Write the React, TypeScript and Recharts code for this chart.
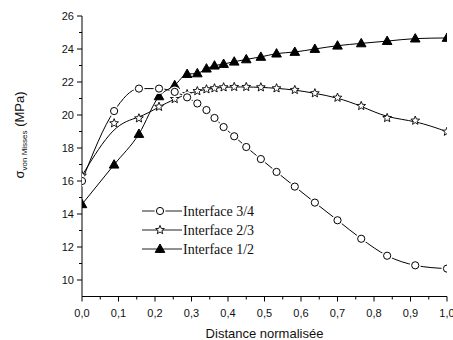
import React from 'react';
import { LineChart, Line, XAxis, YAxis, Legend } from 'recharts';

// normalised distance along the interface
const distance = [0, 0.088, 0.156, 0.211, 0.254, 0.288, 0.316, 0.341, 0.363, 0.388, 0.417, 0.45, 0.49, 0.533, 0.583, 0.638, 0.7, 0.765, 0.836, 0.913, 1.0];

const interface34 = [16.0, 20.24, 21.6, 21.6, 21.4, 21.07, 20.7, 20.3, 19.82, 19.27, 18.71, 18.06, 17.33, 16.55, 15.66, 14.69, 13.62, 12.5, 11.47, 10.89, 10.69];
const interface23 = [16.32, 19.5, 19.8, 20.5, 20.97, 21.27, 21.45, 21.56, 21.62, 21.68, 21.7, 21.7, 21.68, 21.62, 21.52, 21.32, 21.05, 20.55, 19.82, 19.66, 18.99];
const interface12 = [14.59, 16.99, 18.85, 21.13, 21.8, 22.48, 22.52, 22.81, 22.99, 23.09, 23.23, 23.37, 23.52, 23.72, 23.82, 24.0, 24.2, 24.34, 24.48, 24.63, 24.67];

const xMajorTicks = [0, 0.1, 0.2, 0.3, 0.4, 0.5, 0.6, 0.7, 0.8, 0.9, 1.0];
const xMinorTicks = [0.05, 0.15, 0.25, 0.35, 0.45, 0.55, 0.65, 0.75, 0.85, 0.95];
const yMajorTicks = [10, 12, 14, 16, 18, 20, 22, 24, 26];
const yMinorTicks = [11, 13, 15, 17, 19, 21, 23, 25];

const seriesNames = ['Interface 3/4', 'Interface 2/3', 'Interface 1/2'];

const data = distance.map((x, i) => ({
  x,
  s34: interface34[i],
  s23: interface23[i],
  s12: interface12[i],
}));

const tickFont = { fontFamily: 'Liberation Sans, Arial, sans-serif', fontSize: 11, fill: '#111' };

const isMajor = (list: number[], v: number) => list.some((t) => Math.abs(t - v) < 1e-6);

const XTick = (props: any) => {
  const { x, y, payload } = props;
  const major = isMajor(xMajorTicks, payload.value);
  return (
    <g>
      <line x1={x} x2={x} y1={y} y2={y + (major ? 5 : 3)} stroke="#000" />
      {major && (
        <text x={x} y={y + 20} textAnchor="middle" {...tickFont}>
          {payload.value.toFixed(1).replace('.', ',')}
        </text>
      )}
    </g>
  );
};

const YTick = (props: any) => {
  const { x, y, payload } = props;
  const major = isMajor(yMajorTicks, payload.value);
  return (
    <g>
      <line x1={x} x2={x - (major ? 5 : 3)} y1={y} y2={y} stroke="#000" />
      {major && (
        <text x={x - 8} y={y + 4} textAnchor="end" {...tickFont}>
          {payload.value}
        </text>
      )}
    </g>
  );
};

const circleMark = (cx: number, cy: number) => (
  <g>
    <circle cx={cx} cy={cy} r={5.5} fill="#fff" />
    <circle cx={cx} cy={cy} r={3.6} fill="#fff" stroke="#000" strokeWidth={1} />
  </g>
);

const starMark = (cx: number, cy: number) => {
  const pts: string[] = [];
  for (let k = 0; k < 10; k++) {
    const r = k % 2 === 0 ? 4.6 : 2.0;
    const a = -Math.PI / 2 + (k * Math.PI) / 5;
    pts.push(`${cx + r * Math.cos(a)},${cy + r * Math.sin(a)}`);
  }
  return <polygon points={pts.join(' ')} fill="#fff" stroke="#000" strokeWidth={0.9} />;
};

const triMark = (cx: number, cy: number) => (
  <polygon
    points={`${cx},${cy - 5} ${cx - 4.8},${cy + 3.4} ${cx + 4.8},${cy + 3.4}`}
    fill="#000"
    stroke="#000"
  />
);

const markers = [circleMark, starMark, triMark];

const makeDot = (mark: (cx: number, cy: number) => React.ReactElement) => (props: any) => {
  const { cx, cy, index } = props;
  if (cx == null || cy == null) return <g key={index} />;
  return <g key={index}>{mark(cx, cy)}</g>;
};

const renderLegend = () => (
  <svg width={130} height={60}>
    {seriesNames.map((name, i) => {
      const cy = 10 + i * 19;
      return (
        <g key={name}>
          <line x1={2} x2={42} y1={cy} y2={cy} stroke="#222" />
          {markers[i](20, cy)}
          <text
            x={43}
            y={cy + 5}
            fontFamily="Liberation Serif, Times New Roman, serif"
            fontSize={14}
            fill="#111"
          >
            {name}
          </text>
        </g>
      );
    })}
  </svg>
);

const YLabel = () => (
  <text
    transform="translate(24,135) rotate(-90)"
    textAnchor="middle"
    fontFamily="Liberation Sans, Arial, sans-serif"
    fontSize={13}
    fill="#111"
  >
    σ
    <tspan fontSize={8} dy={3}>von Misses</tspan>
    <tspan dy={-3}> (MPa)</tspan>
  </text>
);

export default function App() {
  return (
    <div style={{ position: 'absolute', left: 0, top: 0, width: 453, height: 340, background: '#fff' }}>
      <LineChart width={453} height={340} data={data} margin={{ top: 16, right: 6, left: 0, bottom: 0 }}>
        <XAxis
          xAxisId="b"
          dataKey="x"
          type="number"
          domain={[0, 1]}
          allowDataOverflow
          ticks={[...xMajorTicks, ...xMinorTicks].sort((a, b) => a - b)}
          interval={0}
          tickSize={0}
          tickMargin={0}
          tickLine={false}
          tick={<XTick />}
          axisLine={{ stroke: '#000' }}
          height={43.5}
          label={{
            value: 'Distance normalisée',
            position: 'insideBottom',
            offset: 2,
            style: { fontFamily: 'Liberation Sans, Arial, sans-serif', fontSize: 13, fill: '#111' },
          }}
        />
        <XAxis
          xAxisId="t"
          orientation="top"
          dataKey="x"
          type="number"
          domain={[0, 1]}
          height={0}
          tick={false}
          tickLine={false}
          axisLine={{ stroke: '#000' }}
        />
        <YAxis
          yAxisId="l"
          type="number"
          domain={[9, 26]}
          allowDataOverflow
          ticks={[...yMajorTicks, ...yMinorTicks].sort((a, b) => a - b)}
          interval={0}
          tickSize={0}
          tickMargin={0}
          tickLine={false}
          tick={<YTick />}
          axisLine={{ stroke: '#000' }}
          width={82}
          label={<YLabel />}
        />
        <YAxis
          yAxisId="r"
          orientation="right"
          type="number"
          domain={[9, 26]}
          width={0}
          tick={false}
          tickLine={false}
          axisLine={{ stroke: '#000' }}
        />
        <Legend
          layout="vertical"
          align="center"
          verticalAlign="middle"
          content={renderLegend}
          wrapperStyle={{ left: 140, top: 201, width: 130, height: 60 }}
        />
        <Line
          xAxisId="b"
          yAxisId="l"
          type="monotone"
          dataKey="s12"
          stroke="#000"
          strokeWidth={1}
          dot={makeDot(triMark)}
          isAnimationActive={false}
        />
        <Line
          xAxisId="b"
          yAxisId="l"
          type="basis"
          dataKey="s23"
          stroke="#000"
          strokeWidth={1}
          dot={makeDot(starMark)}
          isAnimationActive={false}
        />
        <Line
          xAxisId="b"
          yAxisId="l"
          type="monotone"
          dataKey="s34"
          stroke="#000"
          strokeWidth={1}
          dot={makeDot(circleMark)}
          isAnimationActive={false}
        />
      </LineChart>
    </div>
  );
}
